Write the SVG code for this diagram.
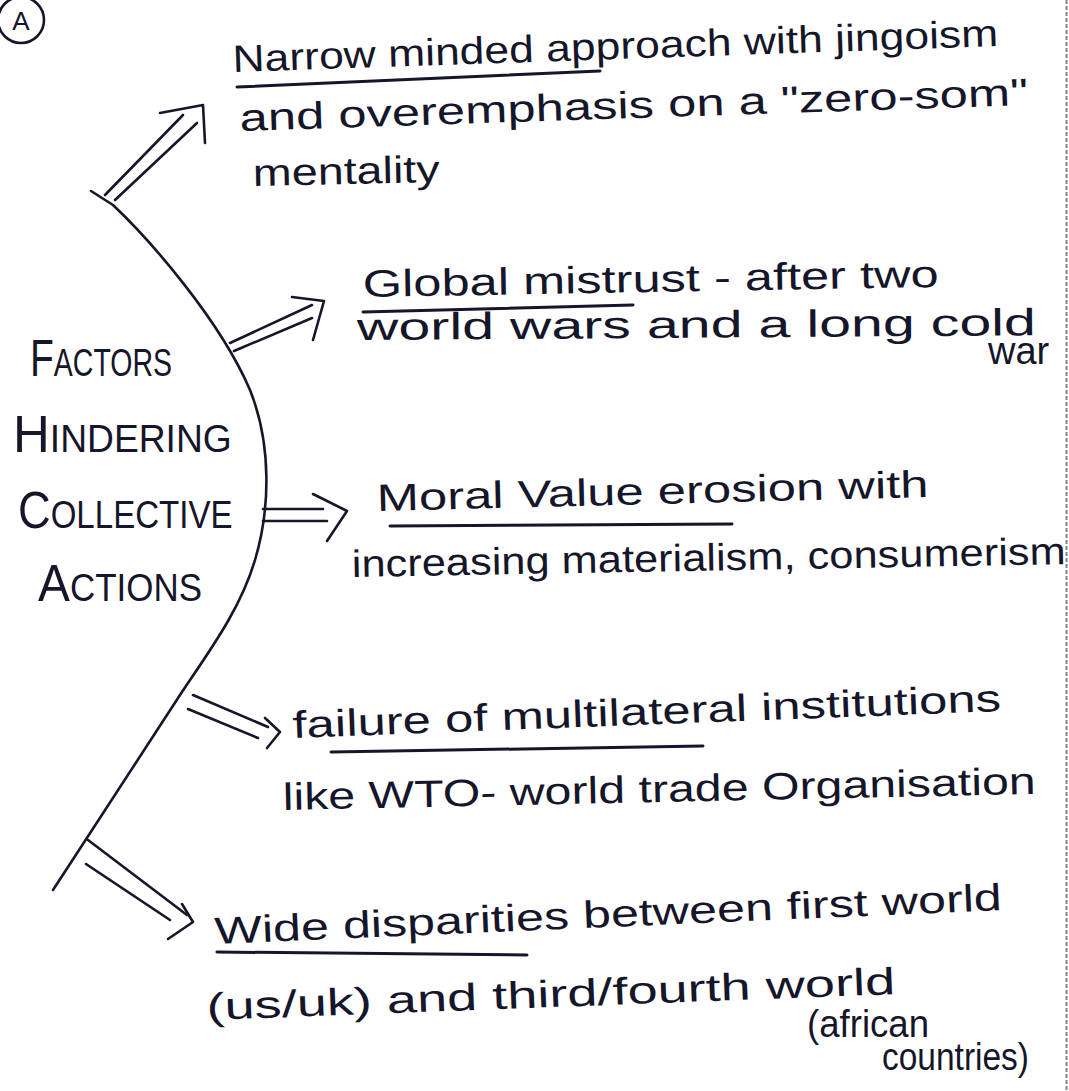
<svg xmlns="http://www.w3.org/2000/svg" width="1069" height="1091" viewBox="0 0 1069 1091">
<style>
.ink{fill:none;stroke:#16162a;stroke-width:2.6;stroke-linecap:round;stroke-linejoin:round}
.t{font-family:"Liberation Sans","DejaVu Sans",sans-serif;font-size:38px;fill:#16162a}
.cap{font-family:"Liberation Sans","DejaVu Sans",sans-serif;fill:#16162a}
.big{font-size:52px}
.sm{font-size:38px}
.ul{fill:none;stroke:#16162a;stroke-width:3;stroke-linecap:round}
</style>
<rect width="1069" height="1091" fill="#ffffff"/>
<line x1="1066.5" y1="0" x2="1066.5" y2="1091" stroke="#333" stroke-width="2" stroke-dasharray="4 2" opacity="0.6"/>

<g id="label-A">
<circle cx="21" cy="20" r="23" class="ink"/>
<text x="21" y="30" class="cap" font-size="26" text-anchor="middle">A</text>
</g>

<g id="title">
<text class="cap" transform="translate(30 376) scale(0.75 1)" x="0" y="0"><tspan class="big">F</tspan><tspan class="sm">ACTORS</tspan></text>
<text class="cap" transform="translate(13 452) scale(0.98 1)" x="0" y="0"><tspan class="big">H</tspan><tspan class="sm">INDERING</tspan></text>
<text class="cap" transform="translate(18 528) scale(0.87 1)" x="0" y="0"><tspan class="big">C</tspan><tspan class="sm">OLLECTIVE</tspan></text>
<text class="cap" transform="translate(38 601) scale(0.92 1)" x="0" y="0"><tspan class="big">A</tspan><tspan class="sm">CTIONS</tspan></text>
</g>

<g id="connectors">
<path class="ink" d="M91,191 L113,205 C150,240 220,320 250,390 C272,445 270,510 255,560 C240,610 210,650 180,695 L53,890"/>
<line class="ink" x1="105" y1="195" x2="183" y2="115"/>
<line class="ink" x1="115" y1="200" x2="197" y2="123"/>
<polyline class="ink" points="160,113 203,105 205,143"/>
<line class="ink" x1="230" y1="343" x2="312" y2="305"/>
<line class="ink" x1="234" y1="351" x2="312" y2="318"/>
<polyline class="ink" points="292,297 324,301 313,340"/>
<line class="ink" x1="263" y1="509" x2="323" y2="509"/>
<line class="ink" x1="263" y1="521" x2="327" y2="521"/>
<polyline class="ink" points="313,494 347,511 327,541"/>
<line class="ink" x1="193" y1="695" x2="268" y2="727"/>
<line class="ink" x1="188" y1="709" x2="258" y2="738"/>
<polyline class="ink" points="265,718 280,732 267,748"/>
<line class="ink" x1="88" y1="840" x2="187" y2="915"/>
<line class="ink" x1="86" y1="864" x2="170" y2="920"/>
<polyline class="ink" points="182,904 193,922 168,939"/>
</g>

<g id="factor-1">
<text class="t" x="233" y="72" transform="rotate(-1.94 233 72)" textLength="766" lengthAdjust="spacingAndGlyphs">Narrow minded approach with jingoism</text>
<line class="ul" x1="237" y1="87" x2="600" y2="71"/>
<text class="t" x="240" y="131" transform="rotate(-1.89 240 131)" textLength="789" lengthAdjust="spacingAndGlyphs">and overemphasis on a "zero-som"</text>
<text class="t" x="253" y="186" transform="rotate(-1.2 253 186)" textLength="187" lengthAdjust="spacingAndGlyphs">mentality</text>
</g>

<g id="factor-2">
<text class="t" x="363" y="297" transform="rotate(-1 363 297)" textLength="576" lengthAdjust="spacingAndGlyphs">Global mistrust - after two</text>
<line class="ul" x1="363" y1="312" x2="633" y2="305"/>
<text class="t" x="357" y="340" transform="rotate(-0.4 357 340)" textLength="679" lengthAdjust="spacingAndGlyphs">world wars and a long cold</text>
<text class="t" x="988" y="364" font-size="34">war</text>
</g>

<g id="factor-3">
<text class="t" x="377" y="511" transform="rotate(-1.45 377 511)" textLength="552" lengthAdjust="spacingAndGlyphs">Moral Value erosion with</text>
<line class="ul" x1="390" y1="526" x2="732" y2="524"/>
<text class="t" x="352" y="577" transform="rotate(-1.04 352 577)" textLength="714" lengthAdjust="spacingAndGlyphs">increasing materialism, consumerism</text>
</g>

<g id="factor-4">
<text class="t" x="293" y="738" transform="rotate(-2.18 293 738)" textLength="709" lengthAdjust="spacingAndGlyphs">failure of multilateral institutions</text>
<line class="ul" x1="331" y1="752" x2="703" y2="746"/>
<text class="t" x="283" y="810" transform="rotate(-1.22 283 810)" textLength="753" lengthAdjust="spacingAndGlyphs">like WTO- world trade Organisation</text>
</g>

<g id="factor-5">
<text class="t" x="215" y="944" transform="rotate(-2.47 215 944)" textLength="788" lengthAdjust="spacingAndGlyphs">Wide disparities between first world</text>
<line class="ul" x1="217" y1="952" x2="527" y2="955"/>
<text class="t" x="207" y="1020" transform="rotate(-2.16 207 1020)" textLength="689" lengthAdjust="spacingAndGlyphs">(us/uk) and third/fourth world</text>
<text class="t" x="807" y="1037" font-size="34" textLength="122" lengthAdjust="spacingAndGlyphs">(african</text>
<text class="t" x="882" y="1070" font-size="26" textLength="147" lengthAdjust="spacingAndGlyphs">countries)</text>
</g>
</svg>
